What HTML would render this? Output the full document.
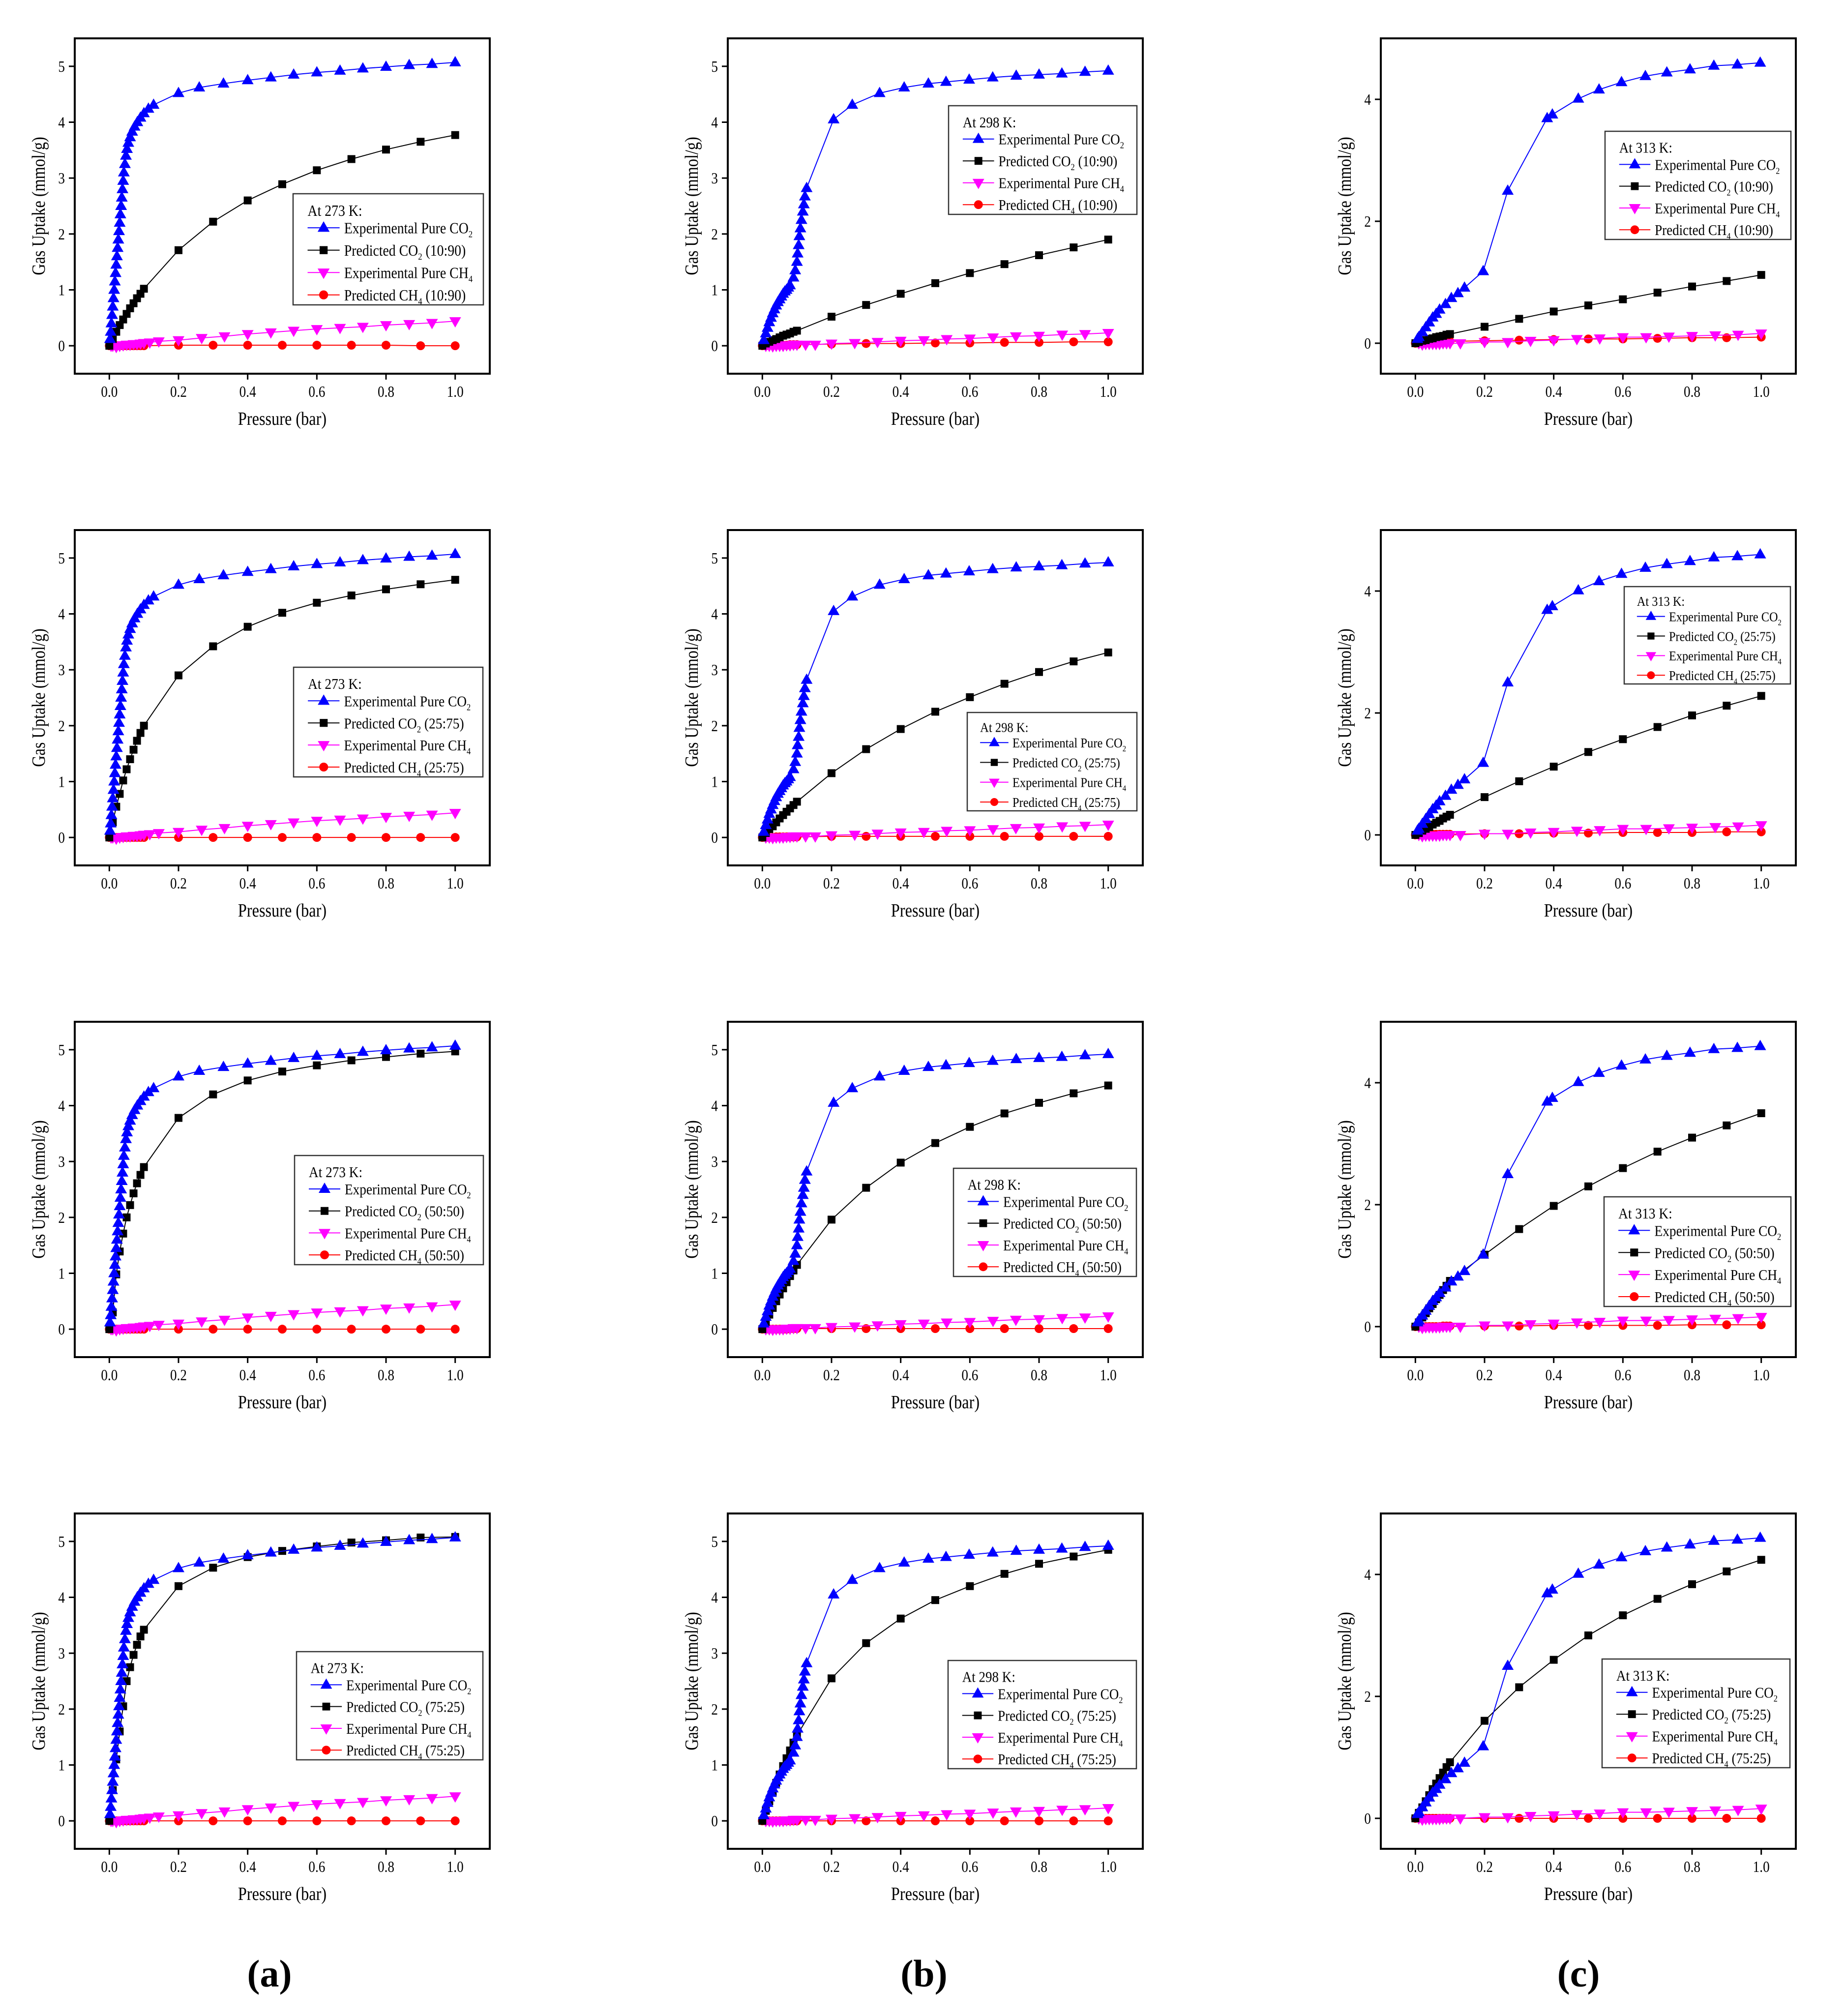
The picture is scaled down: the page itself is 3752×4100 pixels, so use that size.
<!DOCTYPE html>
<html><head><meta charset="utf-8"><style>
html,body{margin:0;padding:0;background:#fff}
svg{display:block}
text{font-family:"Liberation Serif","Times New Roman",serif;fill:#000}
</style></head><body>
<svg id="fig" xmlns="http://www.w3.org/2000/svg" width="3752" height="4100" viewBox="0 0 3752 4100"></svg>
<script>
// ---------- DATA ----------
const predX = [0,0.01,0.02,0.03,0.04,0.05,0.06,0.07,0.08,0.09,0.1,0.2,0.3,0.4,0.5,0.6,0.7,0.8,0.9,1.0];
const ratios = ["10:90","25:75","50:50","75:25"];
const temps = ["273","298","313"];

// 273 K
const expCO2X_a = [0.002,0.004,0.006,0.008,0.010,0.012,0.014,0.016,0.018,0.020,0.022,0.024,0.026,0.028,0.030,0.032,0.034,0.036,0.038,0.040,0.042,0.045,0.048,0.051,0.055,0.060,0.066,0.073,0.081,0.090,0.100,0.113,0.128,0.2,0.26,0.33,0.4,0.467,0.533,0.6,0.667,0.733,0.8,0.867,0.933,1.0];
const expCO2Y_a = [0.12,0.25,0.4,0.55,0.7,0.85,1.0,1.15,1.3,1.45,1.6,1.75,1.9,2.05,2.2,2.35,2.5,2.65,2.8,2.95,3.1,3.25,3.4,3.52,3.63,3.73,3.83,3.92,4.0,4.08,4.16,4.24,4.31,4.52,4.62,4.69,4.75,4.80,4.85,4.89,4.92,4.96,4.99,5.02,5.04,5.07];
const expCH4X_a = [0.005,0.01,0.02,0.03,0.04,0.05,0.06,0.07,0.08,0.09,0.1,0.117,0.143,0.2,0.267,0.333,0.4,0.467,0.533,0.6,0.667,0.733,0.8,0.867,0.933,1.0];
const expCH4Y_a = [0.0,0.0,-0.02,0.0,0.01,0.02,0.02,0.03,0.03,0.04,0.05,0.06,0.08,0.1,0.14,0.17,0.21,0.24,0.27,0.3,0.32,0.34,0.37,0.39,0.41,0.44];
const predCO2_a_1090 = [0,0.12,0.25,0.37,0.47,0.57,0.67,0.76,0.85,0.93,1.02,1.71,2.22,2.6,2.89,3.14,3.34,3.51,3.65,3.77];
const predCO2_a_2575 = [0,0.27,0.55,0.78,1.02,1.22,1.4,1.57,1.73,1.87,2.0,2.9,3.42,3.77,4.02,4.2,4.33,4.44,4.53,4.61];
const predCO2_a_5050 = [0,0.3,0.98,1.39,1.71,2.0,2.22,2.43,2.61,2.76,2.9,3.78,4.2,4.45,4.61,4.72,4.81,4.87,4.93,4.97];
const predCO2_a_7525 = [0,0.55,1.1,1.6,2.05,2.5,2.75,2.97,3.15,3.3,3.42,4.2,4.53,4.72,4.83,4.91,4.98,5.02,5.07,5.08];
const predCH4_a_1090 = [0,0,0,0,0,0,0,0,0,0,0,0.01,0.01,0.01,0.01,0.01,0.01,0.01,0,0];
const predCH4_a_2575 = [0,0,0,0,0,0,0,0,0,0,0,0,0,0,0,0,0,0,0,0];
const predCH4_a_5050 = [0,0,0,0,0,0,0,0,0,0,0,0,0,0,0,0,0,0,0,0];
const predCH4_a_7525 = [0,0,0,0,0,0,0,0,0,0,0,0,0,0,0,0,0,0,0,0];

// 298 K
const expCO2X_b = [0.004,0.01,0.015,0.02,0.025,0.03,0.035,0.04,0.045,0.05,0.055,0.06,0.065,0.07,0.075,0.08,0.09,0.095,0.1,0.102,0.105,0.107,0.11,0.113,0.117,0.12,0.123,0.128,0.206,0.26,0.339,0.41,0.48,0.531,0.598,0.666,0.734,0.8,0.866,0.933,1.0];
const expCO2Y_b = [0.1,0.22,0.32,0.42,0.5,0.58,0.65,0.72,0.78,0.83,0.88,0.93,0.97,1.0,1.04,1.08,1.22,1.35,1.5,1.65,1.8,1.96,2.1,2.25,2.4,2.53,2.67,2.82,4.05,4.31,4.52,4.62,4.69,4.72,4.76,4.8,4.83,4.85,4.87,4.9,4.92];
const expCH4X_b = [0.01,0.02,0.03,0.04,0.05,0.06,0.07,0.08,0.09,0.1,0.125,0.153,0.2,0.267,0.333,0.4,0.467,0.533,0.6,0.667,0.733,0.8,0.867,0.933,1.0];
const expCH4Y_b = [0.0,0.0,-0.01,0.0,0.0,0.0,0.01,0.01,0.02,0.02,0.02,0.02,0.04,0.05,0.07,0.09,0.1,0.12,0.13,0.15,0.17,0.18,0.2,0.21,0.23];
const predCO2_b_1090 = [0,0.04,0.07,0.1,0.12,0.15,0.18,0.2,0.22,0.25,0.27,0.52,0.73,0.93,1.12,1.3,1.46,1.62,1.76,1.9];
const predCO2_b_2575 = [0,0.08,0.15,0.2,0.27,0.34,0.4,0.46,0.52,0.58,0.64,1.15,1.58,1.94,2.25,2.51,2.75,2.96,3.15,3.31];
const predCO2_b_5050 = [0,0.13,0.26,0.38,0.5,0.62,0.73,0.84,0.95,1.05,1.15,1.96,2.53,2.98,3.33,3.62,3.86,4.05,4.22,4.36];
const predCO2_b_7525 = [0,0.18,0.35,0.52,0.68,0.83,0.98,1.12,1.26,1.4,1.53,2.55,3.18,3.62,3.95,4.2,4.42,4.6,4.73,4.85];
const predCH4_b_1090 = [0,0,0.01,0.01,0.01,0.01,0.01,0.01,0.02,0.02,0.02,0.03,0.04,0.04,0.05,0.05,0.06,0.06,0.07,0.07];
const predCH4_b_2575 = [0,0,0,0,0.01,0.01,0.01,0.01,0.01,0.01,0.01,0.02,0.02,0.02,0.02,0.02,0.02,0.02,0.02,0.02];
const predCH4_b_5050 = [0,0,0,0,0,0,0,0,0.01,0.01,0.01,0.01,0.01,0.01,0.01,0.01,0.01,0.01,0.01,0.01];
const predCH4_b_7525 = [0,0,0,0,0,0,0,0,0,0,0,0,0,0,0,0,0,0,0,0];

// 313 K
const expCO2X_c = [0.006,0.01,0.02,0.03,0.04,0.05,0.06,0.07,0.087,0.104,0.123,0.142,0.196,0.267,0.381,0.396,0.471,0.531,0.596,0.665,0.727,0.794,0.863,0.931,0.997];
const expCO2Y_c = [0.07,0.1,0.18,0.26,0.34,0.42,0.48,0.55,0.64,0.74,0.82,0.91,1.18,2.5,3.69,3.75,4.01,4.16,4.28,4.38,4.44,4.49,4.55,4.57,4.6];
const expCH4X_c = [0.01,0.02,0.03,0.04,0.05,0.06,0.07,0.08,0.09,0.1,0.13,0.2,0.267,0.333,0.4,0.467,0.533,0.6,0.667,0.733,0.8,0.867,0.933,1.0];
const expCH4Y_c = [0.0,-0.02,-0.01,-0.01,-0.01,-0.01,-0.01,0.0,0.0,0.0,0.0,0.02,0.02,0.04,0.05,0.07,0.08,0.1,0.1,0.11,0.12,0.13,0.14,0.16];
const predCO2_c_1090 = [0,0.02,0.04,0.05,0.07,0.08,0.1,0.11,0.12,0.14,0.15,0.27,0.4,0.52,0.62,0.72,0.83,0.93,1.02,1.12];
const predCO2_c_2575 = [0,0.03,0.07,0.1,0.13,0.17,0.2,0.23,0.27,0.3,0.33,0.62,0.88,1.12,1.36,1.57,1.77,1.96,2.12,2.28];
const predCO2_c_5050 = [0,0.07,0.15,0.22,0.3,0.37,0.45,0.52,0.6,0.67,0.75,1.18,1.6,1.98,2.3,2.6,2.87,3.1,3.3,3.5];
const predCO2_c_7525 = [0,0.09,0.18,0.28,0.38,0.48,0.57,0.66,0.75,0.84,0.92,1.6,2.15,2.6,3.0,3.33,3.6,3.84,4.05,4.24];
const predCH4_c_1090 = [0,0,0.01,0.01,0.01,0.02,0.02,0.02,0.02,0.03,0.03,0.04,0.05,0.06,0.07,0.07,0.08,0.09,0.09,0.1];
const predCH4_c_2575 = [0,0,0,0,0.01,0.01,0.01,0.01,0.01,0.01,0.01,0.02,0.02,0.03,0.03,0.04,0.04,0.04,0.05,0.05];
const predCH4_c_5050 = [0,0,0,0,0,0,0,0,0.01,0.01,0.01,0.01,0.01,0.02,0.02,0.02,0.02,0.03,0.03,0.03];
const predCH4_c_7525 = [0,0,0,0,0,0,0,0,0,0,0,0,0,0,0,0,0,0,0,0];

const xTicks = [0,0.2,0.4,0.6,0.8,1.0];
const xTickLabels = ["0.0","0.2","0.4","0.6","0.8","1.0"];
const yTicksAB = [0,1,2,3,4,5];
const yTicksC = [0,2,4];
const panelLetters = ["(a)","(b)","(c)"];

const expCO2X = [expCO2X_a, expCO2X_b, expCO2X_c];
const expCO2Y = [expCO2Y_a, expCO2Y_b, expCO2Y_c];
const expCH4X = [expCH4X_a, expCH4X_b, expCH4X_c];
const expCH4Y = [expCH4Y_a, expCH4Y_b, expCH4Y_c];
const predCO2 = [[predCO2_a_1090,predCO2_a_2575,predCO2_a_5050,predCO2_a_7525],[predCO2_b_1090,predCO2_b_2575,predCO2_b_5050,predCO2_b_7525],[predCO2_c_1090,predCO2_c_2575,predCO2_c_5050,predCO2_c_7525]];
const predCH4 = [[predCH4_a_1090,predCH4_a_2575,predCH4_a_5050,predCH4_a_7525],[predCH4_b_1090,predCH4_b_2575,predCH4_b_5050,predCH4_b_7525],[predCH4_c_1090,predCH4_c_2575,predCH4_c_5050,predCH4_c_7525]];

// legend boxes [x, y, w, h] per [row][col] (layout)
const legendBoxes = [
  [[596,394,387,226],[1929,215,383,221],[3264,267,378,220]],
  [[597,1357,385,223],[1967,1449,345,200],[3303,1193,338,198]],
  [[599,2350,384,222],[1939,2376,372,220],[3262,2434,380,223]],
  [[603,3359,379,220],[1928,3377,383,220],[3258,3374,382,221]]
];

// ---------- DRAW ----------
const NS = "http://www.w3.org/2000/svg";
const svg = document.getElementById("fig");
function mk(tag, attrs, parent){
  const e = document.createElementNS(NS, tag);
  for (const k in attrs) e.setAttribute(k, attrs[k]);
  (parent||svg).appendChild(e);
  return e;
}
function label(parent, x, y, html, size, anchor, sx, rot){
  const t = mk("text", {transform:`translate(${x},${y})${rot?` rotate(${rot})`:""} scale(${sx},1)`, "font-size":size, "text-anchor":anchor}, parent);
  t.innerHTML = html;
  return t;
}
const W = 844, H = 682;
const subCO2 = 'CO<tspan font-size="0.6em" dy="8">2</tspan><tspan dy="-8"> </tspan>';
const subCH4 = 'CH<tspan font-size="0.6em" dy="8">4</tspan><tspan dy="-8"> </tspan>';

function marker(g, type, cx, cy, color, s){
  s = s||1;
  let m;
  if (type==="tri") m = mk("polygon",{points:`${cx},${cy-13*s} ${cx+12*s},${cy+8*s} ${cx-12*s},${cy+8*s}`, fill:color}, g);
  else if (type==="tri-down") m = mk("polygon",{points:`${cx},${cy+13*s} ${cx+12*s},${cy-8*s} ${cx-12*s},${cy-8*s}`, fill:color}, g);
  else if (type==="sq") m = mk("rect",{x:cx-8*s,y:cy-8*s,width:16*s,height:16*s, fill:color}, g);
  else m = mk("circle",{cx:cx,cy:cy,r:9*s, fill:color}, g);
  return m;
}
function series(g, xs, ys, xf, yf, color, type, name){
  const sg = mk("g", {}, g);
  
  
  const pts = xs.map((x,i)=>`${xf(x)},${yf(ys[i])}`).join(" ");
  mk("polyline",{points:pts, fill:"none", stroke:color, "stroke-width":2}, sg);
  xs.forEach((x,i)=>{
    const m = marker(sg, type, xf(x), yf(ys[i]), color);
    
    
  });
}

for (let r=0;r<4;r++){
  for (let c=0;c<3;c++){
    const L = 152 + 1328*c, T = 78 + 1000*r;
    const ymin = -0.5, ymax = c===2 ? 5.0 : 5.5;
    const xf = x => L + (x + 0.1)/1.2*W;
    const yf = y => T + (ymax - y)/(ymax - ymin)*H;
    const g = mk("g", {});
    
    

    // x ticks
    xTicks.forEach((v,i)=>{
      mk("line",{x1:xf(v),x2:xf(v),y1:T+H,y2:T+H+12,stroke:"#000","stroke-width":3}, g);
      const t = label(g, xf(v), T+H+47, xTickLabels[i], 32, "middle", 0.85);
      
      
    });
    const yt = c===2 ? yTicksC : yTicksAB;
    yt.forEach(v=>{
      mk("line",{x1:L-12,x2:L,y1:yf(v),y2:yf(v),stroke:"#000","stroke-width":3}, g);
      const t = label(g, L-20, yf(v)+11, String(v), 32, "end", 0.85);
      
      
    });
    const xt = label(g, L+W/2, T+H+104, "Pressure (bar)", 38, "middle", 0.85);
    
    
    const ytt = label(g, L-61, T+H/2, "Gas Uptake (mmol/g)", 38, "middle", 0.85, -90);
    
    

    series(g, predX, predCH4[c][r], xf, yf, "#ff0000", "circ", "predicted-ch4-series");
    series(g, expCH4X[c], expCH4Y[c], xf, yf, "#ff00ff", "tri-down", "experimental-ch4-series");
    series(g, predX, predCO2[c][r], xf, yf, "#000000", "sq", "predicted-co2-series");
    series(g, expCO2X[c], expCO2Y[c], xf, yf, "#0000ff", "tri", "experimental-co2-series");

    const frame = mk("rect",{x:L,y:T,width:W,height:H,fill:"none",stroke:"#000","stroke-width":4}, g);
    
    

    // legend
    const [bx,by,bw,bh] = legendBoxes[r][c];
    const s = bh/222;
    const lg = mk("g", {}, g);
    
    
    mk("rect",{x:bx,y:by,width:bw,height:bh,fill:"#fff",stroke:"#333","stroke-width":2.5}, lg);
    const fs = 31*s;
    const title = label(lg, bx+29*s, by+44*s, `At ${temps[c]} K:`, fs, "start", 0.88);
    
    
    const entries = [
      ["#0000ff","tri",`Experimental Pure ${subCO2}`],
      ["#000000","sq",`Predicted ${subCO2}(${ratios[r]})`],
      ["#ff00ff","tri-down",`Experimental Pure ${subCH4}`],
      ["#ff0000","circ",`Predicted ${subCH4}(${ratios[r]})`]
    ];
    entries.forEach((e,i)=>{
      const cy = by + (68 + 44.7*i)*s;
      const eg = mk("g", {}, lg);
      
      
      mk("line",{x1:bx+29*s,x2:bx+93*s,y1:cy,y2:cy,stroke:e[0],"stroke-width":2}, eg);
      marker(eg, e[1], bx+61*s, cy, e[0], s);
      label(eg, bx+102*s, cy+11*s, e[2], fs, "start", 0.88);
    });
  }
}
panelLetters.forEach((p,i)=>{
  const t = label(svg, 548 + 1331*i, 4040, p, 78, "middle", 1);
  t.setAttribute('font-weight', 'bold');
  
  
});
</script>
</body></html>
